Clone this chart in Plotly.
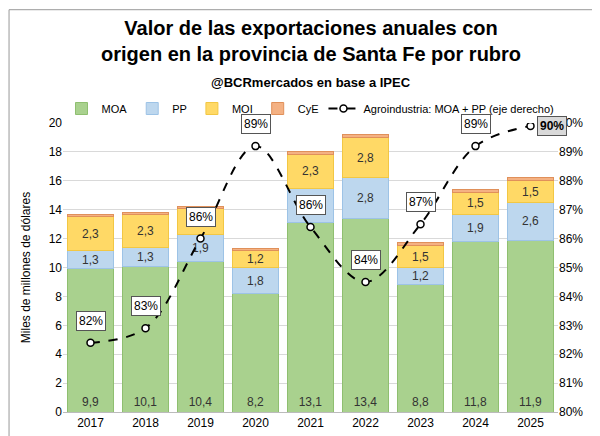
import plotly.graph_objects as go

years = [2017,2018,2019,2020,2021,2022,2023,2024,2025]
moa = [9.9,10.1,10.4,8.2,13.1,13.4,8.8,11.8,11.9]
pp = [1.3,1.3,1.9,1.8,2.4,2.8,1.2,1.9,2.6]
moi = [2.3,2.3,1.8,1.2,2.3,2.8,1.5,1.5,1.5]
cye = [0.2,0.1,0.1,0.1,0.2,0.2,0.2,0.2,0.2]
agro = [82.4,82.9,86.0,89.2,86.4,84.5,86.5,89.2,89.9]
agro_lbl = ["82%","83%","86%","89%","86%","84%","87%","89%","90%"]

def fmt(v): return f"{v:.1f}".replace(".", ",")

fig = go.Figure()
font_lbl = dict(family="Arial", size=12, color="#333")
common = dict(textangle=0, constraintext="none", textfont=font_lbl, textposition="inside")
fig.add_trace(go.Bar(x=years, y=moa, name="MOA", marker=dict(color="#a9d18e", line=dict(color="#8fbf70", width=1)),
            text=[fmt(v) for v in moa], insidetextanchor="start", **common))
fig.add_trace(go.Bar(x=years, y=pp, name="PP", marker=dict(color="#bdd7ee", line=dict(color="#9dc3e6", width=1)),
            text=[fmt(v) for v in pp], insidetextanchor="middle", **common))
fig.add_trace(go.Bar(x=years, y=moi, name="MOI", marker=dict(color="#ffd966", line=dict(color="#f2c744", width=1)),
            text=[fmt(v) for v in moi], insidetextanchor="middle", **common))
fig.add_trace(go.Bar(x=years, y=cye, name="CyE", marker=dict(color="#f4b183", line=dict(color="#e0905a", width=1))))
fig.add_trace(go.Scatter(x=years, y=agro, yaxis="y2", name="Agroindustria: MOA + PP (eje derecho)",
                mode="lines+markers", line=dict(color="black", dash="dash", width=2, shape="spline"),
                marker=dict(color="white", size=7, line=dict(color="black", width=1.5))))

for i,(y,v,l) in enumerate(zip(years, agro, agro_lbl)):
    last = i == len(years)-1
    fig.add_annotation(x=y, y=v, xref="x", yref="y2", text=f"<b>{l}</b>" if last else l,
                       showarrow=False, xshift=21 if last else 0, yshift=0 if last else 22,
                       bgcolor="#d9d9d9" if last else "white", bordercolor="#555", borderwidth=1, borderpad=2,
                       font=dict(family="Arial", size=12, color="black"))

fig.add_annotation(xref="paper", yref="paper", x=0.5, y=1.0, yshift=108, xanchor="center", yanchor="top",
                   showarrow=False,
                   text="<b>Valor de las exportaciones anuales con<br>origen en la provincia de Santa Fe por rubro</b>",
                   font=dict(family="Arial", size=20, color="black"))
fig.add_annotation(xref="paper", yref="paper", x=0.5, y=1.0, yshift=50, xanchor="center", yanchor="top",
                   showarrow=False, text="<b>@BCRmercados en base a IPEC</b>",
                   font=dict(family="Arial", size=13, color="black"))
fig.add_shape(type="rect", xref="paper", yref="paper", x0=-0.109, x1=1.097, y0=-0.105, y1=1.392,
              line=dict(color="#999", width=1))

fig.update_layout(
    width=600, height=436, barmode="stack", bargap=0.18,
    paper_bgcolor="white", plot_bgcolor="white",
    margin=dict(l=55, r=50, t=115, b=32),
    legend=dict(orientation="h", x=0.5, xanchor="center", y=1.0, yanchor="bottom",
                font=dict(family="Arial", size=11, color="black"), traceorder="normal"),
    xaxis=dict(tickmode="array", tickvals=years, ticktext=[str(y) for y in years], range=[2016.5, 2025.5],
               tickfont=dict(family="Arial", size=12, color="black"), showline=True, linecolor="#bbb"),
    yaxis=dict(range=[0,20], dtick=2, gridcolor="#d9d9d9", zeroline=False,
               title=dict(text="Miles de millones de dólares", font=dict(family="Arial", size=12, color="black")),
               tickfont=dict(family="Arial", size=12, color="black")),
    yaxis2=dict(range=[80,90], dtick=1, overlaying="y", side="right", ticksuffix="%", showgrid=False,
                tickfont=dict(family="Arial", size=12, color="black")),
)
fig.write_html("out.html")
